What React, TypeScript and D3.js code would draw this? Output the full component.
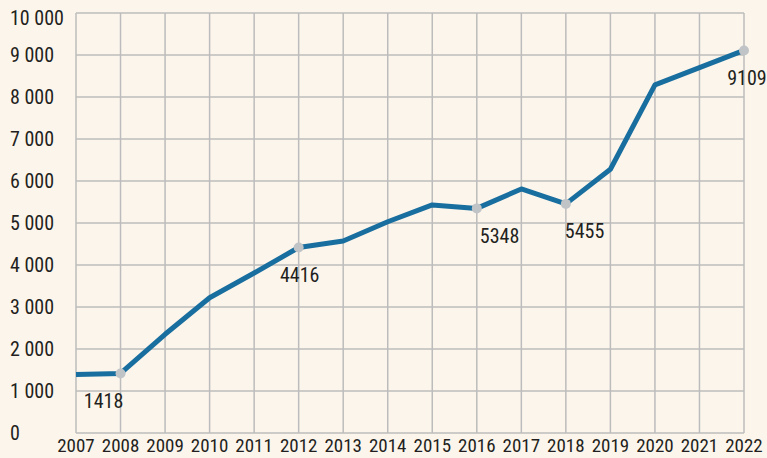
import React from "react";
import * as d3 from "d3";

const years = [2007, 2008, 2009, 2010, 2011, 2012, 2013, 2014, 2015, 2016, 2017, 2018, 2019, 2020, 2021, 2022];
const values = [1390, 1418, 2350, 3220, 3810, 4416, 4570, 5030, 5430, 5348, 5810, 5455, 6280, 8290, 8700, 9109];
const labelledYears = [2008, 2012, 2016, 2018, 2022];
const yTicks = [0, 1000, 2000, 3000, 4000, 5000, 6000, 7000, 8000, 9000, 10000];

const W = 767;
const H = 458;
const FONT = "'Roboto Condensed', 'Liberation Sans Narrow', 'DejaVu Sans Condensed', sans-serif";

export default function App() {
  const x = d3.scaleLinear().domain([2007, 2022]).range([76, 744]);
  const y = d3.scaleLinear().domain([0, 10000]).range([433, 13]);
  const line = d3
    .line<number>()
    .x((_, i) => x(years[i]))
    .y((d) => y(d));
  const fmt = (v: number) => d3.format(",")(v).replace(/,/g, " ");

  const labelOffsets: Record<number, { dx: number; anchor: string }> = {
    2008: { dx: -17, anchor: "middle" },
    2012: { dx: 1, anchor: "middle" },
    2016: { dx: 3, anchor: "start" },
    2018: { dx: -1, anchor: "start" },
    2022: { dx: 3, anchor: "middle" },
  };

  return (
    <svg width={W} height={H} style={{ position: "absolute", left: 0, top: 0 }} fontFamily={FONT}>
      <rect x={0} y={0} width={W} height={H} fill="#fcf5ec" />
      {years.map((yr) => (
        <line key={"v" + yr} x1={x(yr)} x2={x(yr)} y1={y(10000)} y2={y(0)} stroke="#bcbcbc" strokeWidth={1.5} />
      ))}
      {yTicks.map((t) => (
        <line key={"h" + t} x1={x(2007)} x2={x(2022)} y1={y(t)} y2={y(t)} stroke="#bcbcbc" strokeWidth={1.5} />
      ))}
      {yTicks.map((t) => (
        <text
          key={"yl" + t}
          x={10}
          y={t === 10000 ? y(t) + 5 : y(t)}
          dy="0.36em"
          fontSize={20}
          fill="#231f20"
        >
          {fmt(t)}
        </text>
      ))}
      {years.map((yr) => (
        <text key={"xl" + yr} x={x(yr)} y={445} dy="0.36em" textAnchor="middle" fontSize={19} fill="#231f20">
          {yr}
        </text>
      ))}
      <path d={line(values) || ""} fill="none" stroke="#186e9e" strokeWidth={5} strokeLinejoin="round" />
      {labelledYears.map((yr) => {
        const v = values[years.indexOf(yr)];
        const o = labelOffsets[yr];
        return (
          <g key={"m" + yr}>
            <circle cx={x(yr)} cy={y(v)} r={5} fill="#c0c4c7" />
            <text
              x={x(yr) + o.dx}
              y={y(v) + 27}
              dy="0.36em"
              textAnchor={o.anchor}
              fontSize={20}
              fill="#231f20"
            >
              {v}
            </text>
          </g>
        );
      })}
    </svg>
  );
}
